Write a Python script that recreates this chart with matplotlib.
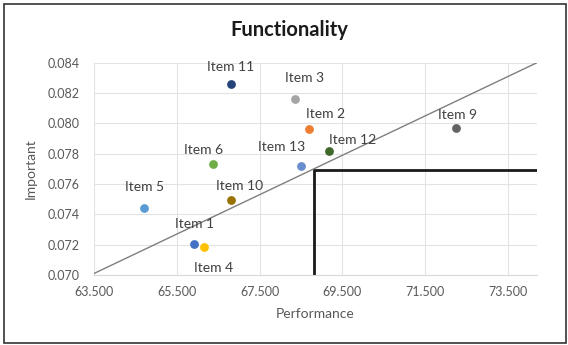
import matplotlib.pyplot as plt
from matplotlib.patches import Rectangle
from matplotlib.ticker import FormatStrFormatter

plt.rcParams['font.family'] = ['Lato', 'DejaVu Sans']

items = ['Item 1', 'Item 2', 'Item 3', 'Item 4', 'Item 5', 'Item 6',
         'Item 9', 'Item 10', 'Item 11', 'Item 12', 'Item 13']
performance = [65.92, 68.70, 68.36, 66.15, 64.71, 66.38,
               72.24, 66.80, 66.80, 69.17, 68.50]
important = [0.07207, 0.07963, 0.08163, 0.07185, 0.07442, 0.07730,
             0.07967, 0.07495, 0.08262, 0.07818, 0.07719]
colors = ['#4472C4', '#ED7D31', '#A5A5A5', '#FFC000', '#5B9BD5', '#70AD47',
          '#636363', '#997300', '#264478', '#43682B', '#698ED0']
# label offsets in points (dx, dy) relative to each marker
offsets = [(0, 14), (11.5, 11), (7, 15), (7, -15), (0, 15), (-7, 10),
           (1.5, 9.5), (6.5, 10), (0, 12), (17, 8), (-14, 14)]

trend_x = [63.5, 74.2]
trend_y = [0.0701, 0.0840]
cut_x = 68.82
cut_y = 0.0769

fig = plt.figure(figsize=(5.68, 3.45), dpi=100)
ax = fig.add_axes([0.1655, 0.2029, 0.7799, 0.6154])

ax.plot(trend_x, trend_y, color='#7f7f7f', lw=1.0, zorder=2)
ax.plot([cut_x, cut_x, 74.2], [0.070, cut_y, cut_y], color='#1a1a1a', lw=2.0, zorder=2)

for name, x, y, c, (dx, dy) in zip(items, performance, important, colors, offsets):
    ax.scatter(x, y, s=40, color=c, zorder=3, linewidths=0)
    ax.annotate(name, (x, y), xytext=(dx, dy), textcoords='offset points',
                ha='center', va='center', fontsize=10, color='#404040', zorder=4)

ax.set_xlim(63.5, 74.2)
ax.set_ylim(0.070, 0.084)
ax.set_xticks([63.5, 65.5, 67.5, 69.5, 71.5, 73.5])
ax.set_yticks([0.070, 0.072, 0.074, 0.076, 0.078, 0.080, 0.082, 0.084])
ax.xaxis.set_major_formatter(FormatStrFormatter('%.3f'))
ax.yaxis.set_major_formatter(FormatStrFormatter('%.3f'))
ax.tick_params(length=0, labelsize=9, labelcolor='#595959')
ax.tick_params(axis='x', pad=8)
ax.tick_params(axis='y', pad=10)
ax.grid(True, color='#e3e3e3', lw=0.8, zorder=0)
ax.set_axisbelow(True)
for side in ['top', 'right', 'left']:
    ax.spines[side].set_visible(False)
ax.spines['bottom'].set_color('#d9d9d9')

ax.set_xlabel('Performance', fontsize=10, color='#595959', labelpad=7)
ax.set_ylabel('Important', fontsize=10, color='#595959', labelpad=8)
fig.text(0.509, 0.913, 'Functionality', ha='center', va='center',
         fontsize=14.5, fontweight='bold', color='#1a1a1a')

fig.patches.append(Rectangle((4 / 568, 2 / 345), 562 / 568, 339 / 345,
                             transform=fig.transFigure, fill=False,
                             edgecolor='#333333', lw=1.2))

fig.savefig('out.png', dpi=100)
